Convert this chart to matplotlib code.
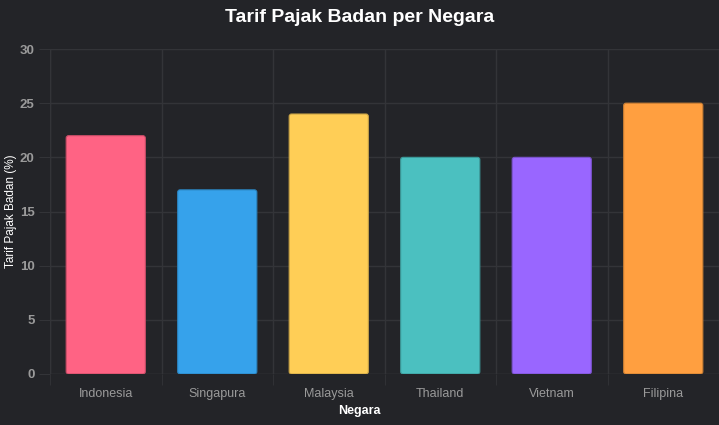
import matplotlib.pyplot as plt
from matplotlib.patches import FancyBboxPatch

# data
negara = ['Indonesia', 'Singapura', 'Malaysia', 'Thailand', 'Vietnam', 'Filipina']
tarif = [22, 17, 24, 20, 20, 25]
warna = ['#FF6384', '#36A2EB', '#FFCE56', '#4BC0C0', '#9966FF', '#FF9F40']
tepi = ['#c94d67', '#2b84c0', '#c9a346', '#3c9a9a', '#7a52cc', '#cc7f33']
y_ticks = [0, 5, 10, 15, 20, 25, 30]

bg = '#232428'
grid = '#333438'
tick_col = '#9a9a9a'

fig = plt.figure(figsize=(7.19, 4.25), dpi=100, facecolor=bg)
ax = fig.add_axes([50 / 719, 1 - 374 / 425, 669 / 719, 325 / 425], facecolor=bg)

x = range(len(negara))
bars = ax.bar(x, tarif, width=0.71, color=warna, edgecolor='none', zorder=3)

# rounded tops (slight rounding)
for b, c, e in zip(bars, warna, tepi):
    b.set_visible(False)
    p = FancyBboxPatch((b.get_x(), b.get_y()), b.get_width(), b.get_height(),
                       boxstyle='round,pad=0,rounding_size=0.022',
                       mutation_aspect=30 / 325 * 111.5,
                       facecolor=c, edgecolor=e, linewidth=0.8, zorder=3)
    ax.add_patch(p)

ax.set_xlim(-0.5, len(negara) - 0.5)
ax.set_ylim(0, 30)
ax.set_yticks(y_ticks)
ax.set_xticks(list(x))
ax.set_xticklabels(negara)

# vertical grid lines at category boundaries
ax.set_xticks([i - 0.5 for i in range(len(negara) + 1)], minor=True)
ax.grid(True, which='minor', axis='x', color=grid, linewidth=1, zorder=0)
ax.grid(True, which='major', axis='y', color=grid, linewidth=1, zorder=0)
ax.tick_params(axis='x', which='major', length=0, pad=10, labelsize=9, labelcolor=tick_col)
ax.tick_params(axis='x', which='minor', length=8, color=grid)
ax.tick_params(axis='y', length=8, color=grid, labelsize=9.5, labelcolor=tick_col, pad=3)
for lbl in ax.get_yticklabels():
    lbl.set_fontweight('bold')

for s in ax.spines.values():
    s.set_visible(False)
ax.axvline(-0.5, color=grid, linewidth=1, zorder=1)
ax.axhline(0, color=grid, linewidth=1, zorder=1)

fig.text(0.5, 1 - 17 / 425, 'Tarif Pajak Badan per Negara', ha='center', va='center',
         color='white', fontsize=14, fontweight='bold', family='Liberation Sans')
fig.text(0.5, 1 - 411 / 425, 'Negara', ha='center', va='center',
         color='white', fontsize=9, fontweight='bold', family='Liberation Sans')
fig.text(11 / 719, 1 - 211 / 425, 'Tarif Pajak Badan (%)', ha='center', va='center',
         rotation=90, color='white', fontsize=8.5, family='Liberation Sans')

plt.setp(ax.get_xticklabels() + ax.get_yticklabels(), family='Liberation Sans')

fig.savefig('out.png', dpi=100, facecolor=bg)
